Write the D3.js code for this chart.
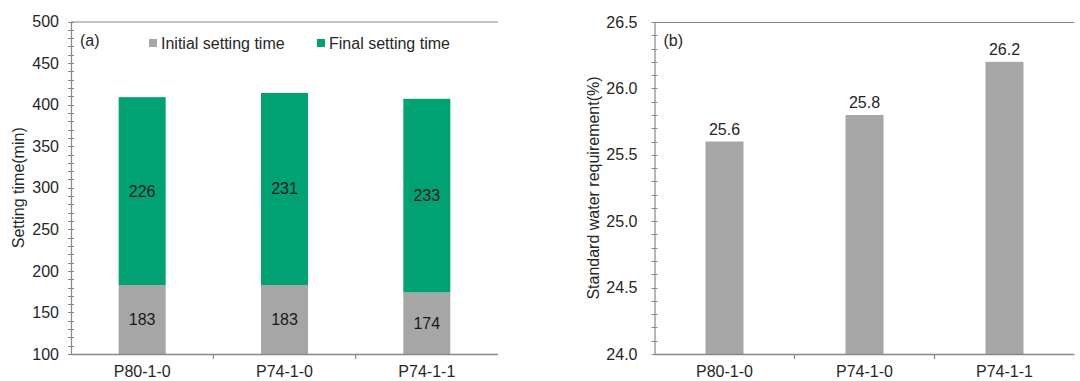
<!DOCTYPE html>
<html>
<head>
<meta charset="utf-8">
<script src="https://cdn.jsdelivr.net/npm/d3@7/dist/d3.min.js"></script>
<style>
  html, body { margin: 0; padding: 0; background: #fff; }
  svg { display: block; font-family: "Liberation Sans", Arial, sans-serif; }
</style>
</head>
<body>
<svg id="chart" width="1080" height="381"></svg>
<script>
// Mix designs
const categories = ["P80-1-0", "P74-1-0", "P74-1-1"];
// (a) setting time, minutes
const initialSetting = [183, 183, 174];
const finalSettingExtra = [226, 231, 233];
// (b) standard water requirement, %
const waterRequirement = [25.6, 25.8, 26.2];

const seriesNames = ["Initial setting time", "Final setting time"];
const leftTicks = [100, 150, 200, 250, 300, 350, 400, 450, 500];
const rightTicks = [24.0, 24.5, 25.0, 25.5, 26.0, 26.5];

const GREY = "#a6a6a6";
const GREEN = "#00a173";
const AXIS = "#888888";
const TEXT = "#262626";

const svg = d3.select("#chart");

function minorTicks(g, scale, step, x0) {
  const [lo, hi] = scale.domain();
  const vals = d3.range(lo, hi + step / 2, step);
  g.selectAll(null).data(vals).enter().append("line")
    .attr("x1", x0 - 3).attr("x2", x0 + 3)
    .attr("y1", d => Math.round(scale(d)) + 0.5)
    .attr("y2", d => Math.round(scale(d)) + 0.5)
    .attr("stroke", AXIS).attr("stroke-width", 1);
}

function panelFrame(g, x, y, opts) {
  const [x0, x1] = x.range();
  const [yb, yt] = y.range();
  // top border
  g.append("line").attr("x1", x0).attr("x2", x1)
    .attr("y1", yt + 0.5).attr("y2", yt + 0.5)
    .attr("stroke", AXIS).attr("stroke-width", 1.2);
  // y axis
  const yAxis = d3.axisLeft(y).tickValues(opts.ticks).tickFormat(opts.fmt)
    .tickSize(0).tickPadding(opts.pad);
  const yg = g.append("g").attr("transform", `translate(${x0},0)`).call(yAxis);
  yg.select(".domain").attr("stroke", AXIS).attr("stroke-width", 1.2);
  yg.selectAll("text").attr("fill", TEXT).style("font-size", "16px")
    .style("font-family", "Liberation Sans, Arial, sans-serif");
  minorTicks(g, y, opts.step, x0);
  // x axis with band boundary ticks
  g.append("line").attr("x1", x0).attr("x2", x1)
    .attr("y1", yb + 0.5).attr("y2", yb + 0.5)
    .attr("stroke", AXIS).attr("stroke-width", 1.4);
  const bounds = categories.slice(1).map(c => x(c));
  g.selectAll(null).data(bounds).enter().append("line")
    .attr("x1", d => d).attr("x2", d => d)
    .attr("y1", yb).attr("y2", yb + 5)
    .attr("stroke", AXIS).attr("stroke-width", 1.2);
  g.selectAll(null).data(categories).enter().append("text")
    .attr("x", d => x(d) + x.bandwidth() / 2)
    .attr("y", yb + 23)
    .attr("text-anchor", "middle")
    .attr("fill", TEXT).style("font-size", "16px")
    .text(d => d);
  // axis title
  g.append("text")
    .attr("transform", `translate(${opts.titleX},${(yb + yt) / 2}) rotate(-90)`)
    .attr("text-anchor", "middle").attr("dominant-baseline", "central")
    .attr("fill", TEXT).style("font-size", "16px")
    .text(opts.title);
  // panel tag
  g.append("text").attr("x", x0 + 9).attr("y", yt + 24)
    .attr("fill", TEXT).style("font-size", "16px").text(opts.tag);
}

// ---------- (a) stacked setting time ----------
const xa = d3.scaleBand().domain(categories).range([71, 498]).paddingInner(0).paddingOuter(0);
const ya = d3.scaleLinear().domain([100, 500]).range([354, 21.5]);
const barWa = 47;
const ga = svg.append("g");

const stackedRows = categories.map((c, i) => ({ cat: c, initial: initialSetting[i], extra: finalSettingExtra[i] }));
const stack = d3.stack().keys(["initial", "extra"])(stackedRows);
const colorsA = [GREY, GREEN];

stack.forEach((layer, li) => {
  ga.selectAll(null).data(layer).enter().append("rect")
    .attr("x", d => xa(d.data.cat) + (xa.bandwidth() - barWa) / 2)
    .attr("width", barWa)
    .attr("y", d => ya(d[1]))
    .attr("height", d => ya(Math.max(d[0], 100)) - ya(d[1]))
    .attr("fill", colorsA[li]);
  ga.selectAll(null).data(layer).enter().append("text")
    .attr("x", d => xa(d.data.cat) + xa.bandwidth() / 2)
    .attr("y", d => ya((Math.max(d[0], 100) + d[1]) / 2))
    .attr("text-anchor", "middle").attr("dominant-baseline", "central")
    .attr("fill", "#1a1a1a").style("font-size", "16px")
    .text(d => d[1] - d[0]);
});

panelFrame(ga, xa, ya, {
  ticks: leftTicks, fmt: d3.format("d"), step: 10, pad: 12,
  title: "Setting time(min)", titleX: 18, tag: "(a)"
});

// legend
const legendItems = [
  { name: seriesNames[0], color: GREY, x: 149 },
  { name: seriesNames[1], color: GREEN, x: 317 }
];
const lg = ga.selectAll(null).data(legendItems).enter().append("g")
  .attr("transform", d => `translate(${d.x},43)`);
lg.append("rect").attr("x", 0).attr("y", -4).attr("width", 8).attr("height", 8).attr("fill", d => d.color);
lg.append("text").attr("x", 12).attr("y", 0).attr("dominant-baseline", "central")
  .attr("fill", TEXT).style("font-size", "16px").text(d => d.name);

// ---------- (b) standard water requirement ----------
const xb = d3.scaleBand().domain(categories).range([654.5, 1074.5]).paddingInner(0).paddingOuter(0);
const yb = d3.scaleLinear().domain([24.0, 26.5]).range([354, 22]);
const barWb = 38;
const gb = svg.append("g");

gb.selectAll(null).data(categories).enter().append("rect")
  .attr("x", d => xb(d) + (xb.bandwidth() - barWb) / 2)
  .attr("width", barWb)
  .attr("y", (d, i) => yb(waterRequirement[i]))
  .attr("height", (d, i) => yb(24.0) - yb(waterRequirement[i]))
  .attr("fill", GREY);
gb.selectAll(null).data(categories).enter().append("text")
  .attr("x", d => xb(d) + xb.bandwidth() / 2)
  .attr("y", (d, i) => yb(waterRequirement[i]) - 7)
  .attr("text-anchor", "middle")
  .attr("fill", TEXT).style("font-size", "16px")
  .text((d, i) => d3.format(".1f")(waterRequirement[i]));

panelFrame(gb, xb, yb, {
  ticks: rightTicks, fmt: d3.format(".1f"), step: 0.1, pad: 17,
  title: "Standard water requirement(%)", titleX: 593, tag: "(b)"
});
</script>
</body>
</html>
